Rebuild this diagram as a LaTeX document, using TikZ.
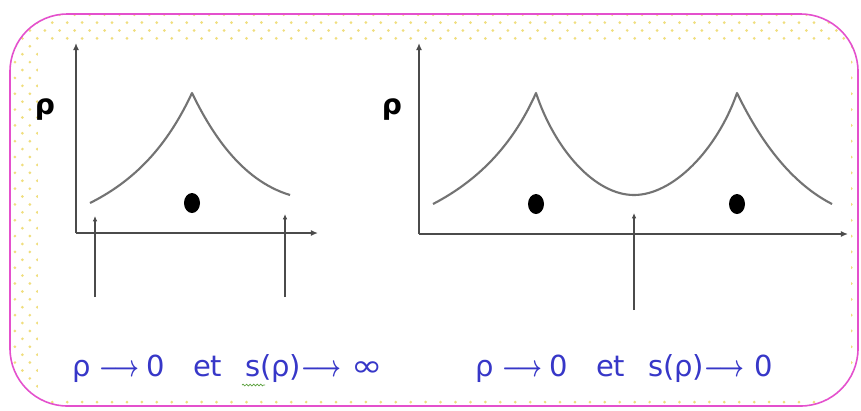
\documentclass[tikz,border=0pt]{standalone}
\usepackage{fontspec}
\setmainfont{DejaVu Sans}
\usetikzlibrary{arrows.meta,patterns.meta,decorations.pathmorphing}

\tikzdeclarepattern{name=paperdots, type=uncolored,
  bottom left={(-1pt,-1pt)}, top right={(7.5pt,8pt)},
  tile size={(8.5pt,9pt)},
  code={\fill (0,0) circle (.85pt); \fill (4.25pt,4.5pt) circle (.85pt);}}

\newcommand{\longto}{\scalebox{.71}[1]{\boldmath$\longrightarrow$}}

\begin{document}
\begin{tikzpicture}[
  x=0.02cm, y=-0.02cm,
  >=Latex,
  axis/.style={-{Latex[length=4pt,width=3.4pt]}, line width=1.1pt, draw=axisgrey},
  profile/.style={line width=1.2pt, draw=curvegrey, line join=round},
  pointer/.style={-{Latex[length=3pt,width=2.6pt]}, line width=.6pt, draw=axisgrey},
  atom/.style={fill=black},
  rholabel/.style={font=\fontsize{16}{16}\selectfont\bfseries, text=black},
  limit/.style={font=\fontsize{16.5}{17}\selectfont, text=textblue, anchor=west, inner sep=0pt}
]
\definecolor{axisgrey}{RGB}{75,75,75}
\definecolor{curvegrey}{RGB}{115,115,115}
\definecolor{textblue}{RGB}{55,55,200}
\definecolor{framepink}{RGB}{228,80,205}
\definecolor{dotyellow}{RGB}{240,222,125}
\definecolor{spellgreen}{RGB}{90,160,60}

\useasboundingbox (0,0) rectangle (861,410);
\fill[white] (0,0) rectangle (861,410);

% dotted frame round the white panel
\fill[pattern=paperdots, pattern color=dotyellow, rounded corners=1.15cm]
  (10,14) rectangle (858,406);
\fill[white] (38,43) rectangle (851,397);
\draw[framepink, line width=.9pt, rounded corners=1.15cm]
  (10,14) rectangle (858,406);

% Left plot: one peak
\coordinate (lo) at (76,233);
\coordinate (ly) at (76,43);
\coordinate (lx) at (318,233);
\draw[axis] (lo) -- (ly);
\draw[axis] (lo) -- (lx);
\node[rholabel] (lrho) at (45,110) {ρ};
\draw[profile] (90,203) .. controls (140,178) and (170,140) .. (192,93)
  .. controls (210,130) and (240,180) .. (290,195);
\fill[atom] (192,203) ellipse (8 and 10);
\coordinate (la1) at (95,297);
\coordinate (lb1) at (95,216);
\coordinate (la2) at (285,297);
\coordinate (lb2) at (285,214);
\draw[pointer] (la1) -- (lb1);
\draw[pointer] (la2) -- (lb2);
\node[limit] (linf) at (72,369)
  {ρ\hspace{5pt}\longto\hspace{4pt}0\hspace{16pt}et\hspace{13pt}s(ρ)\longto\hspace{6pt}\scalebox{1.3}[1.05]{∞}};
\draw[spellgreen, line width=.4pt, decorate,
  decoration={snake, amplitude=.5pt, segment length=2pt}]
  (242,385) -- (265,385);

% Right plot: two peaks
\coordinate (ro) at (419,234);
\coordinate (ry) at (419,43);
\coordinate (rx) at (848,234);
\draw[axis] (ro) -- (ry);
\draw[axis] (ro) -- (rx);
\node[rholabel] (rrho) at (392,110) {ρ};
\draw[profile] (433,204) .. controls (483,178) and (515,140) .. (536,93)
  .. controls (555,150) and (595,195) .. (634,195)
  .. controls (673,195) and (717,150) .. (737,93)
  .. controls (755,130) and (785,180) .. (832,204);
\fill[atom] (536,204) ellipse (8 and 10);
\fill[atom] (737,204) ellipse (8 and 10);
\coordinate (ra) at (634,310);
\coordinate (rb) at (634,213);
\draw[pointer] (ra) -- (rb);
\node[limit] (rzero) at (475,369)
  {ρ\hspace{5pt}\longto\hspace{4pt}0\hspace{16pt}et\hspace{13pt}s(ρ)\longto\hspace{6pt}0};

\end{tikzpicture}
\end{document}
